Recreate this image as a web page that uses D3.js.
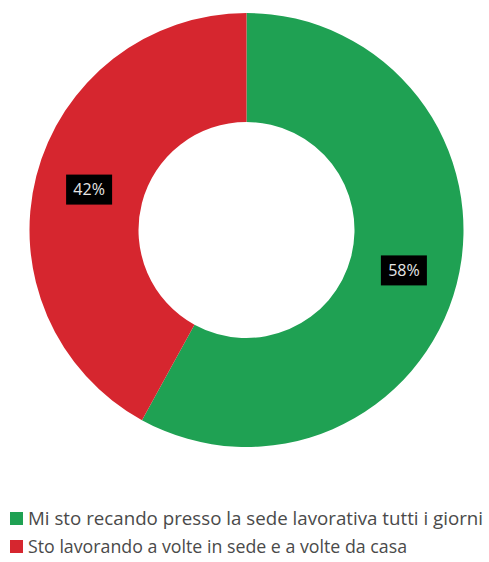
<!DOCTYPE html>
<html>
<head>
<meta charset="utf-8">
<script src="https://cdn.jsdelivr.net/npm/d3@7"></script>
<style>
  html, body { margin: 0; padding: 0; background: #ffffff; }
  svg { display: block; }
</style>
</head>
<body>
<svg id="chart" width="489" height="562"></svg>
<script>
// Survey answers and their shares (percent)
const categories = [
  "Mi sto recando presso la sede lavorativa tutti i giorni",
  "Sto lavorando a volte in sede e a volte da casa"
];
const values = [58, 42];
const colors = ["#1fa153", "#d6262f"];

const svg = d3.select("#chart");
const cx = 246.5, cy = 230, outerR = 217, innerR = 108;

const pie = d3.pie().sort(null).value(d => d.value);
const arc = d3.arc().innerRadius(innerR).outerRadius(outerR);

const data = categories.map((c, i) => ({ name: c, value: values[i], color: colors[i] }));
const arcs = pie(data);

const g = svg.append("g").attr("transform", `translate(${cx},${cy})`);

g.selectAll("path.slice")
  .data(arcs)
  .join("path")
  .attr("class", "slice")
  .attr("d", arc)
  .attr("fill", d => d.data.color);

// Value labels: white text on black boxes at each slice centroid
const labels = g.selectAll("g.lbl")
  .data(arcs)
  .join("g")
  .attr("class", "lbl")
  .attr("transform", d => `translate(${arc.centroid(d)})`);

labels.append("rect")
  .attr("x", -23).attr("y", -15)
  .attr("width", 46).attr("height", 30)
  .attr("fill", "#000000");

labels.append("text")
  .attr("text-anchor", "middle")
  .attr("dy", "0.36em")
  .attr("fill", "#e6e6e6")
  .attr("font-family", "'Open Sans', sans-serif")
  .attr("font-size", 16)
  .text(d => d.data.value + "%");

// Legend
const legend = svg.append("g").attr("transform", "translate(10,0)");
const rowY = [525, 553];

const rows = legend.selectAll("g.row")
  .data(data)
  .join("g")
  .attr("class", "row")
  .attr("transform", (d, i) => `translate(0,${rowY[i]})`);

rows.append("rect")
  .attr("x", 0).attr("y", -13)
  .attr("width", 13).attr("height", 13)
  .attr("fill", d => d.color);

const legendWidths = [455, 379];
rows.append("text")
  .attr("x", 18)
  .attr("y", 0)
  .attr("fill", "#4a4a4a")
  .attr("font-family", "'Open Sans', sans-serif")
  .attr("font-size", 18)
  .attr("textLength", (d, i) => legendWidths[i])
  .attr("lengthAdjust", "spacingAndGlyphs")
  .text(d => d.name);
</script>
</body>
</html>
